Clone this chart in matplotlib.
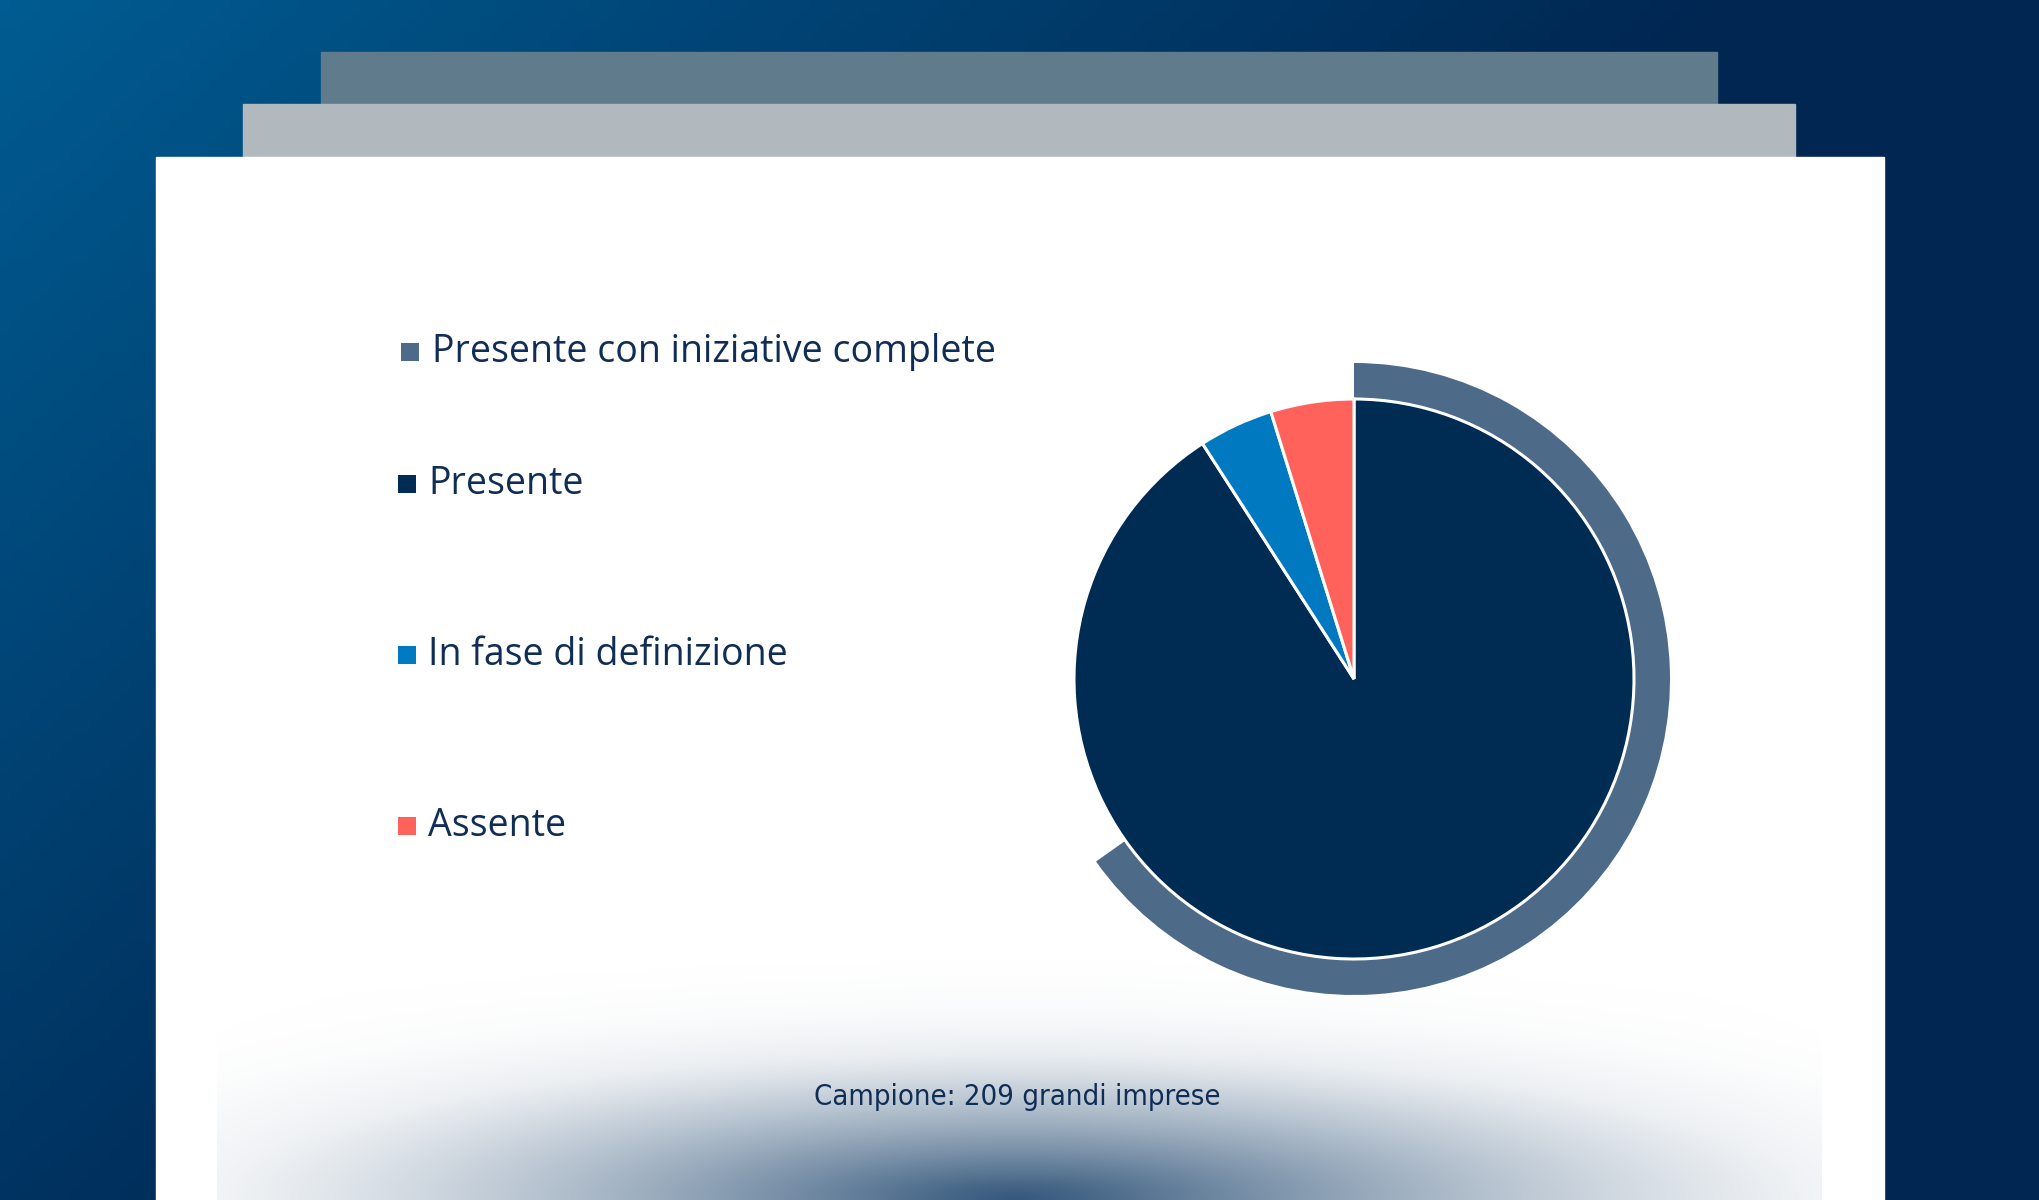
import matplotlib
matplotlib.use("Agg")
import matplotlib.pyplot as plt
import matplotlib.patches as patches
import numpy as np

W, H = 2040, 1200

# data
labels = ["Presente con iniziative complete", "Presente", "In fase di definizione", "Assente"]
pie_labels = ["Presente", "In fase di definizione", "Assente"]
pie_values = [90.9, 4.3, 4.8]
ring_value = 65.2
footnote = "Campione: 209 grandi imprese"

NAVY = "#002b52"
RING = "#4d6a88"
BLUE = "#0079c1"
RED = "#ff625a"
TEXT = "#0f2d55"
colors = {"Presente con iniziative complete": RING, "Presente": NAVY,
          "In fase di definizione": BLUE, "Assente": RED}

fig = plt.figure(figsize=(W / 100, H / 100), dpi=100)
bg = fig.add_axes([0, 0, 1, 1])
bg.axis("off")

# background gradient
xs = np.linspace(0, W, 204)
ys = np.linspace(0, H, 120)
X, Y = np.meshgrid(xs, ys)
t = np.clip(X / 1750 + Y / 1600, 0, 1)[..., None]
c0 = np.array([0x00, 0x5c, 0x92]) / 255
c1 = np.array([0x00, 0x26, 0x51]) / 255
bg.imshow(c0 * (1 - t) + c1 * t, extent=[0, W, H, 0], aspect="auto", zorder=0)

# stacked cards
bg.add_patch(patches.Rectangle((321, 52), 1396, 53, color="#5f7b8c", zorder=1))
bg.add_patch(patches.Rectangle((243, 104), 1552, 54, color="#b1b8be", zorder=2))
bg.add_patch(patches.Rectangle((156, 157), 1728, 1050, color="white", zorder=3))

# bottom glow: flattened fade from the bottom centre, rounded off by an envelope
gx = np.linspace(217, 1822, 400)
gy = np.linspace(955, 1200, 120)
GX, GY = np.meshgrid(gx, gy)
d = np.sqrt(((GX - 1017) / 5.5) ** 2 + (1200 - GY) ** 2)
core = np.interp(d, [0, 15, 55, 100, 145, 190, 240],
                 [0.9, 0.84, 0.62, 0.38, 0.14, 0.04, 0])
env = np.sqrt(np.clip(1 - np.sqrt(((GX - 1017) / 1000) ** 2 + ((1200 - GY) / 280) ** 2), 0, 1))
s = (core * env)[..., None]
glow_c = np.array([0x1e, 0x45, 0x6d]) / 255
glow = np.ones(3) * (1 - s) + glow_c * s
bg.imshow(glow, extent=[217, 1822, 1200, 955], aspect="auto", zorder=4)
bg.set_xlim(0, W)
bg.set_ylim(H, 0)

# legend
legend_y = [352, 484, 655, 826]
marker_x = [410, 407, 407, 407]
text_x = [432, 428, 428, 428]
for lab, ly, mx, tx in zip(labels, legend_y, marker_x, text_x):
    bg.scatter([mx], [ly], marker="s", s=150, color=colors[lab], linewidths=0, zorder=5)
    bg.text(tx, ly, lab, fontsize=27, color=TEXT, family="Open Sans",
            va="center", ha="left", zorder=5)

bg.text(1017, 1097, footnote, fontsize=21, color=TEXT,
        family="DejaVu Sans", stretch="condensed",
        ha="center", va="center", zorder=5)

# pie
cx, cy, box = 1354, 679, 700
ax = fig.add_axes([(cx - box / 2) / W, (H - cy - box / 2) / H, box / W, box / H])
ax.axis("off")

outer = 316 / 280
ax.pie([ring_value, 100 - ring_value], colors=[RING, "none"], startangle=90,
       counterclock=False, radius=outer, wedgeprops=dict(width=outer - 1.0, linewidth=0))
ax.pie(pie_values, colors=[colors[p] for p in pie_labels], startangle=90,
       counterclock=False, radius=1.0,
       wedgeprops=dict(edgecolor="white", linewidth=2.2))
ax.set_aspect("equal")
ax.set_xlim(-1.25, 1.25)
ax.set_ylim(-1.25, 1.25)

fig.savefig("out.png", dpi=100)
